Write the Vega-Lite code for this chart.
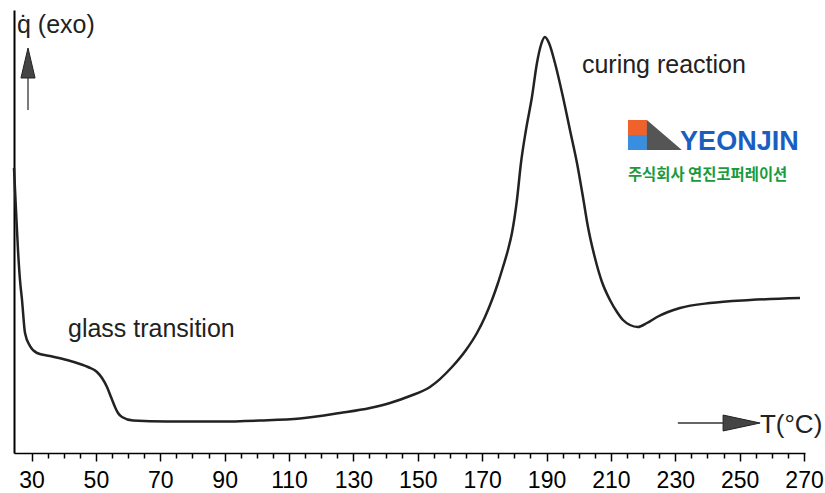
{
  "$schema": "https://vega.github.io/schema/vega-lite/v6.json",
  "width": 791,
  "height": 443,
  "autosize": {"type": "none"},
  "padding": {"left": 14, "top": 10, "right": 20, "bottom": 40},
  "background": "white",
  "config": {"view": {"stroke": null}},
  "datasets": {
    "curve": [
      {"T": 24.56, "V": 285}, {"T": 25.18, "V": 243}, {"T": 25.8, "V": 203}, {"T": 26.42, "V": 173},
      {"T": 27.05, "V": 153}, {"T": 27.98, "V": 120}, {"T": 29.53, "V": 107}, {"T": 31.71, "V": 100},
      {"T": 35.74, "V": 97}, {"T": 41.02, "V": 93}, {"T": 45.06, "V": 89}, {"T": 47.55, "V": 86},
      {"T": 50.34, "V": 81}, {"T": 51.9, "V": 75}, {"T": 53.45, "V": 66}, {"T": 54.69, "V": 56},
      {"T": 55.94, "V": 46}, {"T": 56.87, "V": 40}, {"T": 58.11, "V": 36}, {"T": 61.53, "V": 32.5},
      {"T": 72.09, "V": 31.5}, {"T": 88.55, "V": 31.5}, {"T": 100.98, "V": 32.5}, {"T": 113.41, "V": 34.5},
      {"T": 125.83, "V": 40}, {"T": 135.15, "V": 45}, {"T": 141.37, "V": 50}, {"T": 147.58, "V": 57},
      {"T": 153.79, "V": 66}, {"T": 160.63, "V": 86}, {"T": 164.98, "V": 103}, {"T": 168.39, "V": 120},
      {"T": 170.88, "V": 136}, {"T": 173.05, "V": 153}, {"T": 174.92, "V": 170}, {"T": 176.47, "V": 186},
      {"T": 178.02, "V": 203}, {"T": 179.26, "V": 220}, {"T": 180.81, "V": 253}, {"T": 182.06, "V": 290},
      {"T": 183.61, "V": 323}, {"T": 185.47, "V": 356}, {"T": 187.03, "V": 390}, {"T": 188.27, "V": 408},
      {"T": 189.51, "V": 416}, {"T": 190.76, "V": 410}, {"T": 192.62, "V": 390}, {"T": 195.11, "V": 356},
      {"T": 197.28, "V": 323}, {"T": 199.46, "V": 290}, {"T": 201.32, "V": 256}, {"T": 202.88, "V": 226},
      {"T": 205.05, "V": 195}, {"T": 207.23, "V": 171}, {"T": 209.71, "V": 153}, {"T": 211.89, "V": 141},
      {"T": 213.76, "V": 133}, {"T": 215.93, "V": 128}, {"T": 218.42, "V": 126}, {"T": 221.21, "V": 130},
      {"T": 224.32, "V": 136}, {"T": 227.74, "V": 141}, {"T": 231.46, "V": 145}, {"T": 240.78, "V": 150},
      {"T": 253.21, "V": 153}, {"T": 268.74, "V": 155}
    ],
    "arrowLines": [
      {"T": 230.8, "T2": 244.8, "V": 30, "V2": 30},
      {"T": 28.91, "T2": 28.91, "V": 343, "V2": 376}
    ],
    "hHead": [{"T": 250.6, "V": 30}],
    "vHead": [{"T": 28.91, "V": 390}],
    "notes": [
      {"label": "q̇ (exo)", "T": 25.49, "V": 420},
      {"label": "curing reaction", "T": 201.0, "V": 380},
      {"label": "glass transition", "T": 41.33, "V": 116}
    ],
    "unit": [{"label": "T(°C)", "T": 256.3, "V": 20}],
    "logoBlocks": [
      {"part": "top", "T": 215.3, "T2": 221.2, "V": 333, "V2": 318},
      {"part": "bottom", "T": 215.3, "T2": 221.2, "V": 318, "V2": 303}
    ],
    "logoMark": [{"T": 226.6, "V": 318}],
    "logoName": [{"label": "YEONJIN", "T": 231.5, "V": 303}],
    "logoKo": [{"label": "주식회사 연진코퍼레이션", "T": 215.3, "V": 273}]
  },
  "encoding": {
    "x": {
      "field": "T", "type": "quantitative",
      "scale": {"domain": [24.56, 270.3], "nice": false, "zero": false},
      "axis": {
        "values": [30,35,40,45,50,55,60,65,70,75,80,85,90,95,100,105,110,115,120,125,130,135,140,145,150,155,160,165,170,175,180,185,190,195,200,205,210,215,220,225,230,235,240,245,250,255,260,265,270],
        "labelExpr": "(datum.value - 30) % 20 == 0 ? datum.label : ''",
        "tickSize": {"condition": {"test": "(datum.value - 30) % 20 == 0", "value": 8}, "value": 5},
        "tickColor": "black", "tickWidth": 1.5,
        "domainColor": "black", "domainWidth": 1.5,
        "labelFont": "Liberation Sans", "labelFontSize": 23, "labelColor": "black",
        "labelPadding": 8, "labelFlush": false, "labelOverlap": false,
        "grid": false, "title": null
      }
    },
    "y": {
      "field": "V", "type": "quantitative",
      "scale": {"domain": [0, 443], "nice": false, "zero": false},
      "axis": {"domain": true, "domainColor": "black", "domainWidth": 2, "ticks": false, "labels": false, "grid": false, "title": null}
    }
  },
  "layer": [
    {
      "data": {"name": "curve"},
      "mark": {"type": "line", "interpolate": "monotone", "color": "#222", "strokeWidth": 2.5}
    },
    {
      "data": {"name": "arrowLines"},
      "mark": {"type": "rule", "color": "#333", "strokeWidth": 1.3},
      "encoding": {"x2": {"field": "T2"}, "y2": {"field": "V2"}}
    },
    {
      "data": {"name": "hHead"},
      "mark": {"type": "point", "shape": "M-1,-0.43L1,0L-1,0.43Z", "size": 1369, "filled": true, "fill": "#444", "stroke": "#222", "strokeWidth": 1, "opacity": 1}
    },
    {
      "data": {"name": "vHead"},
      "mark": {"type": "point", "shape": "M-0.47,1L0,-1L0.47,1Z", "size": 900, "filled": true, "fill": "#444", "stroke": "#222", "strokeWidth": 1, "opacity": 1}
    },
    {
      "data": {"name": "notes"},
      "mark": {"type": "text", "align": "left", "baseline": "alphabetic", "font": "Liberation Sans", "fontSize": 25, "color": "#222"},
      "encoding": {"text": {"field": "label"}}
    },
    {
      "data": {"name": "unit"},
      "mark": {"type": "text", "align": "left", "baseline": "alphabetic", "font": "Liberation Sans", "fontSize": 26, "color": "#222"},
      "encoding": {"text": {"field": "label"}}
    },
    {
      "data": {"name": "logoBlocks"},
      "mark": {"type": "rect"},
      "encoding": {
        "x2": {"field": "T2"}, "y2": {"field": "V2"},
        "color": {"field": "part", "type": "nominal", "scale": {"domain": ["top", "bottom"], "range": ["#f0622c", "#3a8ee0"]}, "legend": null}
      }
    },
    {
      "data": {"name": "logoMark"},
      "mark": {"type": "point", "shape": "M-1,-0.857L1,0.857L-1,0.857Z", "size": 1225, "filled": true, "fill": "#555", "opacity": 1}
    },
    {
      "data": {"name": "logoName"},
      "mark": {"type": "text", "align": "left", "baseline": "alphabetic", "font": "Liberation Sans", "fontWeight": "bold", "fontSize": 27, "color": "#1a5fc0"},
      "encoding": {"text": {"field": "label"}}
    },
    {
      "data": {"name": "logoKo"},
      "mark": {"type": "text", "align": "left", "baseline": "alphabetic", "font": "Noto Sans CJK KR", "fontWeight": "bold", "fontSize": 15.4, "color": "#1a9a3a"},
      "encoding": {"text": {"field": "label"}}
    }
  ]
}
